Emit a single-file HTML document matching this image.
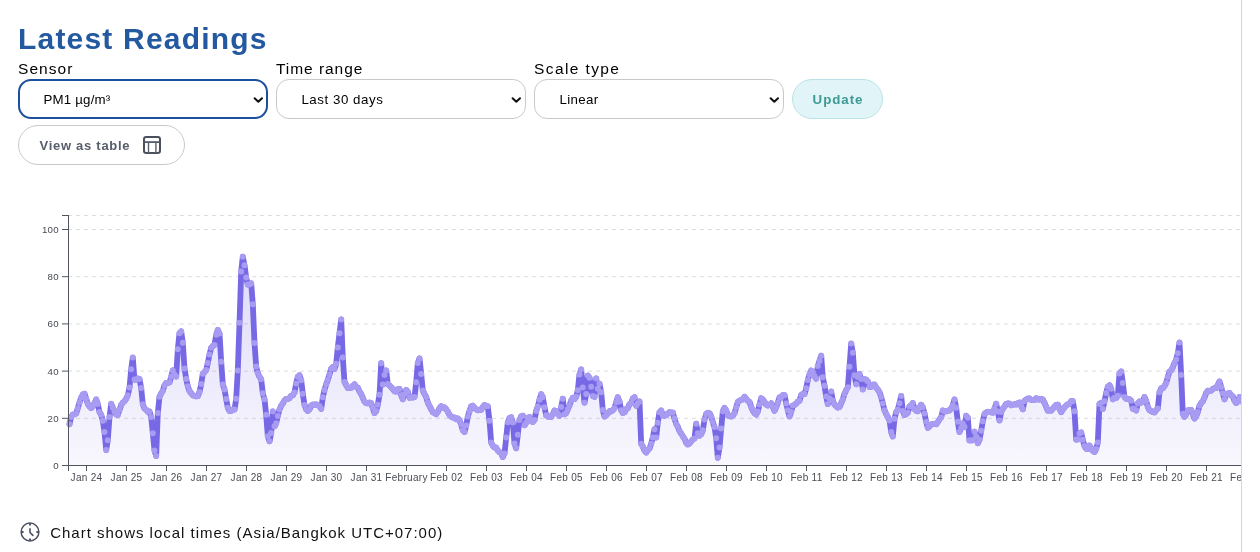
<!DOCTYPE html>
<html><head><meta charset="utf-8"><title>Latest Readings</title>
<style>
html,body{margin:0;padding:0;background:#fff;}
body{width:1260px;height:552px;overflow:hidden;position:relative;font-family:"Liberation Sans",sans-serif;color:#000;}
.wrap{will-change:transform;transform:translateZ(0);position:absolute;left:0;top:0;width:1241px;height:552px;overflow:hidden;border-right:1px solid #d6d6da;}
h1{position:absolute;left:18px;top:16.6px;margin:0;font-size:30px;line-height:44px;font-weight:bold;color:#2359a0;white-space:nowrap;letter-spacing:1.2px;}
.lbl{position:absolute;top:58.6px;font-size:15.5px;line-height:20px;white-space:nowrap;}
.sel{position:absolute;top:79px;width:250px;height:40px;box-sizing:border-box;border:1px solid #c9c9c9;border-radius:13px;background:#fff;font-size:13.3px;line-height:40px;padding-left:24.4px;white-space:nowrap;}
.sel.focus{border:2px solid #1d4f9f;line-height:38px;padding-left:23.4px;}
.sel svg{position:absolute;right:3px;top:14px;}
.sel.focus svg{right:2px;top:13px;}
.btn{position:absolute;box-sizing:border-box;height:40px;border-radius:20px;font-size:13.3px;font-weight:bold;line-height:39.5px;white-space:nowrap;letter-spacing:0.5px;}
.upd{letter-spacing:0.95px;text-indent:1px;}
.tbl{letter-spacing:0.72px;}
.upd{left:792px;top:79px;width:91px;background:#e1f4f7;border:1px solid #b9e3e6;color:#3d9a94;text-align:center;}
.tbl{left:18px;top:125px;width:167px;background:#fff;border:1px solid #c9c9c9;color:#565e6b;padding-left:20.5px;font-size:13px;}
.tbl svg{position:absolute;left:123px;top:9px;}
.chart{position:absolute;left:0;top:200px;}
.foot{position:absolute;left:50.2px;top:522.5px;font-size:15px;line-height:20px;white-space:nowrap;color:#111;letter-spacing:0.99px;}
.clock{position:absolute;left:19px;top:521px;}
</style></head><body><div class="wrap">
<h1>Latest Readings</h1>
<div class="lbl" style="left:18px;letter-spacing:1.05px">Sensor</div>
<div class="lbl" style="left:276px;letter-spacing:0.95px">Time range</div>
<div class="lbl" style="left:534px;letter-spacing:1.4px">Scale type</div>
<div class="sel focus" style="left:18px;letter-spacing:0.2px">PM1 µg/m³<svg width="12" height="12" viewBox="0 0 12 12"><path d="M2.6 4.2l3.7 3.6 3.7-3.6" fill="none" stroke="#111" stroke-width="2" stroke-linecap="round" stroke-linejoin="round"/></svg></div>
<div class="sel" style="left:276px;letter-spacing:0.55px">Last 30 days<svg width="12" height="12" viewBox="0 0 12 12"><path d="M2.6 4.2l3.7 3.6 3.7-3.6" fill="none" stroke="#111" stroke-width="2" stroke-linecap="round" stroke-linejoin="round"/></svg></div>
<div class="sel" style="left:534px;letter-spacing:0.35px">Linear<svg width="12" height="12" viewBox="0 0 12 12"><path d="M2.6 4.2l3.7 3.6 3.7-3.6" fill="none" stroke="#111" stroke-width="2" stroke-linecap="round" stroke-linejoin="round"/></svg></div>
<div class="btn upd">Update</div>
<div class="btn tbl">View as table<svg width="20" height="20" viewBox="0 0 20 20"><rect x="2" y="2" width="16" height="16" rx="2.2" fill="none" stroke="#4a505e" stroke-width="2"/><line x1="2" x2="18" y1="7.1" y2="7.1" stroke="#4a505e" stroke-width="1.7"/><line x1="6.5" x2="6.5" y1="7.1" y2="18" stroke="#5a5f6b" stroke-width="1.4"/><line x1="13.9" x2="13.9" y1="7.1" y2="18" stroke="#5a5f6b" stroke-width="1.4"/></svg></div>
<svg class="chart" width="1241" height="300" viewBox="0 200 1241 300">
<g stroke="#dcdcde" stroke-width="1" stroke-dasharray="4 4" stroke-dashoffset="1"><line x1="69" x2="1242" y1="215.5" y2="215.5"/><line x1="69" x2="1242" y1="229.5" y2="229.5"/><line x1="69" x2="1242" y1="276.7" y2="276.7"/><line x1="69" x2="1242" y1="323.9" y2="323.9"/><line x1="69" x2="1242" y1="371.1" y2="371.1"/><line x1="69" x2="1242" y1="418.3" y2="418.3"/></g>
<defs><linearGradient id="ag" gradientUnits="userSpaceOnUse" x1="0" y1="256" x2="0" y2="465.5"><stop offset="0" stop-color="#7a6ce6" stop-opacity="0.26"/><stop offset="1" stop-color="#7a6ce6" stop-opacity="0.05"/></linearGradient></defs>
<path d="M69.5 424.2 L71.2 416.9 L72.8 414.6 L74.5 414.3 L76.2 413.5 L77.8 408.2 L79.5 402.5 L81.2 397.6 L82.8 394.5 L84.5 393.7 L86.2 398.7 L87.8 403.8 L89.5 406.6 L91.2 408.0 L92.8 406.3 L94.5 403.2 L96.2 399.5 L97.8 404.1 L99.5 412.0 L101.2 414.7 L102.8 420.8 L104.5 431.9 L106.2 450.0 L107.8 440.3 L109.5 417.1 L111.2 403.8 L112.8 407.7 L114.5 411.8 L116.2 414.4 L117.8 414.9 L119.5 409.8 L121.2 405.1 L122.8 402.7 L124.5 401.2 L126.2 398.7 L127.8 395.3 L129.5 387.6 L131.2 369.2 L132.8 357.6 L134.5 379.6 L136.2 379.5 L137.8 378.6 L139.5 379.0 L141.2 388.0 L142.8 404.2 L144.5 408.5 L146.2 409.8 L147.8 411.8 L149.5 411.5 L151.2 417.1 L152.8 433.3 L154.5 450.4 L156.2 456.0 L157.8 413.1 L159.5 396.7 L161.2 393.5 L162.8 390.8 L164.5 385.2 L166.2 383.0 L167.8 382.8 L169.5 382.5 L171.2 376.8 L172.8 370.4 L174.5 374.6 L176.2 376.4 L177.8 349.3 L179.5 333.3 L181.2 331.4 L182.8 342.7 L184.5 368.4 L186.2 378.9 L187.8 386.3 L189.5 391.0 L191.2 393.3 L192.8 395.2 L194.5 396.0 L196.2 396.3 L197.8 396.1 L199.5 391.9 L201.2 384.1 L202.8 373.7 L204.5 372.1 L206.2 370.1 L207.8 363.0 L209.5 354.5 L211.2 347.7 L212.8 346.0 L214.5 345.0 L216.2 334.8 L217.8 330.0 L219.5 333.5 L221.2 361.7 L222.8 384.6 L224.5 389.5 L226.2 399.1 L227.8 407.8 L229.5 411.0 L231.2 410.8 L232.8 409.4 L234.5 409.5 L236.2 398.7 L237.8 370.5 L239.5 322.8 L241.2 271.5 L242.8 256.7 L244.5 265.2 L246.2 277.6 L247.8 284.5 L249.5 284.4 L251.2 283.4 L252.8 304.2 L254.5 342.9 L256.2 366.6 L257.8 373.1 L259.5 376.7 L261.2 379.3 L262.8 393.2 L264.5 399.2 L266.2 414.8 L267.8 436.3 L269.5 441.3 L271.2 433.0 L272.8 411.4 L274.5 426.3 L276.2 423.2 L277.8 415.9 L279.5 409.6 L281.2 405.8 L282.8 403.4 L284.5 400.5 L286.2 399.0 L287.8 399.1 L289.5 398.1 L291.2 395.8 L292.8 395.3 L294.5 392.4 L296.2 383.4 L297.8 376.7 L299.5 375.3 L301.2 380.2 L302.8 393.8 L304.5 404.9 L306.2 409.2 L307.8 410.9 L309.5 409.3 L311.2 405.5 L312.8 404.6 L314.5 404.8 L316.2 404.4 L317.8 405.2 L319.5 406.1 L321.2 408.8 L322.8 397.3 L324.5 389.9 L326.2 384.4 L327.8 379.8 L329.5 374.4 L331.2 368.7 L332.8 367.1 L334.5 369.0 L336.2 363.8 L337.8 347.4 L339.5 333.3 L341.2 319.4 L342.8 357.5 L344.5 381.9 L346.2 385.0 L347.8 388.0 L349.5 387.9 L351.2 387.7 L352.8 385.8 L354.5 384.3 L356.2 386.9 L357.8 387.7 L359.5 391.6 L361.2 394.0 L362.8 397.9 L364.5 401.6 L366.2 403.2 L367.8 403.3 L369.5 402.6 L371.2 403.3 L372.8 408.0 L374.5 413.1 L376.2 411.0 L377.8 404.7 L379.5 394.8 L381.2 363.2 L382.8 384.5 L384.5 375.1 L386.2 370.5 L387.8 384.1 L389.5 385.6 L391.2 387.3 L392.8 389.1 L394.5 391.3 L396.2 391.5 L397.8 389.2 L399.5 389.0 L401.2 395.3 L402.8 399.2 L404.5 394.1 L406.2 389.9 L407.8 391.8 L409.5 397.7 L411.2 397.1 L412.8 397.5 L414.5 396.9 L416.2 382.3 L417.8 362.9 L419.5 358.4 L421.2 373.9 L422.8 390.5 L424.5 394.1 L426.2 397.0 L427.8 402.6 L429.5 406.0 L431.2 409.3 L432.8 412.1 L434.5 413.0 L436.2 414.2 L437.8 411.7 L439.5 408.2 L441.2 406.3 L442.8 407.9 L444.5 407.4 L446.2 409.2 L447.8 411.7 L449.5 414.9 L451.2 416.6 L452.8 417.4 L454.5 417.6 L456.2 419.2 L457.8 418.5 L459.5 420.3 L461.2 424.4 L462.8 430.2 L464.5 432.0 L466.2 425.6 L467.8 416.5 L469.5 411.2 L471.2 406.2 L472.8 405.7 L474.5 407.8 L476.2 409.3 L477.8 410.3 L479.5 409.7 L481.2 409.8 L482.8 407.1 L484.5 404.9 L486.2 406.0 L487.8 406.3 L489.5 420.8 L491.2 442.5 L492.8 445.8 L494.5 447.5 L496.2 447.6 L497.8 450.5 L499.5 452.2 L501.2 453.4 L502.8 457.1 L504.5 453.4 L506.2 437.6 L507.8 422.3 L509.5 418.1 L511.2 417.3 L512.8 422.6 L514.5 443.4 L516.2 448.2 L517.8 434.7 L519.5 419.9 L521.2 416.2 L522.8 415.8 L524.5 425.3 L526.2 422.7 L527.8 417.9 L529.5 417.1 L531.2 421.0 L532.8 421.9 L534.5 419.9 L536.2 410.9 L537.8 406.4 L539.5 399.7 L541.2 394.2 L542.8 397.3 L544.5 407.3 L546.2 415.3 L547.8 416.6 L549.5 416.5 L551.2 416.8 L552.8 414.5 L554.5 410.6 L556.2 411.3 L557.8 413.6 L559.5 415.8 L561.2 407.1 L562.8 398.8 L564.5 414.3 L566.2 413.0 L567.8 409.2 L569.5 405.3 L571.2 400.6 L572.8 397.7 L574.5 398.9 L576.2 396.7 L577.8 390.2 L579.5 374.4 L581.2 369.5 L582.8 387.6 L584.5 402.7 L586.2 394.1 L587.8 375.6 L589.5 377.7 L591.2 386.7 L592.8 396.1 L594.5 396.8 L596.2 378.4 L597.8 388.7 L599.5 383.8 L601.2 392.3 L602.8 410.0 L604.5 416.5 L606.2 415.2 L607.8 413.4 L609.5 411.2 L611.2 411.3 L612.8 410.2 L614.5 408.2 L616.2 402.3 L617.8 397.2 L619.5 401.5 L621.2 410.3 L622.8 412.9 L624.5 412.3 L626.2 409.1 L627.8 408.2 L629.5 404.3 L631.2 402.9 L632.8 398.6 L634.5 397.2 L636.2 405.8 L637.8 403.2 L639.5 401.5 L641.2 443.7 L642.8 446.7 L644.5 450.6 L646.2 452.5 L647.8 450.2 L649.5 448.5 L651.2 443.7 L652.8 437.6 L654.5 429.2 L656.2 437.5 L657.8 422.7 L659.5 412.3 L661.2 410.5 L662.8 415.3 L664.5 415.8 L666.2 415.3 L667.8 413.6 L669.5 412.2 L671.2 412.6 L672.8 412.6 L674.5 418.6 L676.2 423.9 L677.8 426.7 L679.5 431.0 L681.2 433.6 L682.8 436.3 L684.5 438.8 L686.2 442.7 L687.8 444.4 L689.5 443.6 L691.2 441.3 L692.8 439.6 L694.5 438.4 L696.2 423.7 L697.8 433.2 L699.5 435.7 L701.2 434.2 L702.8 430.3 L704.5 419.6 L706.2 414.1 L707.8 412.8 L709.5 413.2 L711.2 416.5 L712.8 422.0 L714.5 427.1 L716.2 438.2 L717.8 457.7 L719.5 447.5 L721.2 428.6 L722.8 411.3 L724.5 407.9 L726.2 410.5 L727.8 414.9 L729.5 416.1 L731.2 416.5 L732.8 415.5 L734.5 413.1 L736.2 407.5 L737.8 402.1 L739.5 400.7 L741.2 399.8 L742.8 399.4 L744.5 396.8 L746.2 399.0 L747.8 400.7 L749.5 402.1 L751.2 406.8 L752.8 410.6 L754.5 413.2 L756.2 414.6 L757.8 411.5 L759.5 404.6 L761.2 398.2 L762.8 399.4 L764.5 401.9 L766.2 404.6 L767.8 405.5 L769.5 404.9 L771.2 403.3 L772.8 406.9 L774.5 410.8 L776.2 407.3 L777.8 402.6 L779.5 397.5 L781.2 397.3 L782.8 395.2 L784.5 395.2 L786.2 403.4 L787.8 410.2 L789.5 416.4 L791.2 411.9 L792.8 405.6 L794.5 404.9 L796.2 403.6 L797.8 401.6 L799.5 400.8 L801.2 394.9 L802.8 393.9 L804.5 394.1 L806.2 388.2 L807.8 380.0 L809.5 374.5 L811.2 370.6 L812.8 372.1 L814.5 375.9 L816.2 378.6 L817.8 366.1 L819.5 361.0 L821.2 355.8 L822.8 377.3 L824.5 385.7 L826.2 396.5 L827.8 404.1 L829.5 398.4 L831.2 391.6 L832.8 400.6 L834.5 404.4 L836.2 406.1 L837.8 407.5 L839.5 406.9 L841.2 403.2 L842.8 399.3 L844.5 393.7 L846.2 390.2 L847.8 387.3 L849.5 366.7 L851.2 343.6 L852.8 352.7 L854.5 375.2 L856.2 384.3 L857.8 377.1 L859.5 374.1 L861.2 378.9 L862.8 389.4 L864.5 379.1 L866.2 379.8 L867.8 381.6 L869.5 387.1 L871.2 386.7 L872.8 384.7 L874.5 384.6 L876.2 387.7 L877.8 389.4 L879.5 392.2 L881.2 397.1 L882.8 403.4 L884.5 410.2 L886.2 414.1 L887.8 416.9 L889.5 420.6 L891.2 432.1 L892.8 436.4 L894.5 418.8 L896.2 412.1 L897.8 409.6 L899.5 403.3 L901.2 396.0 L902.8 411.1 L904.5 415.0 L906.2 414.0 L907.8 412.7 L909.5 406.4 L911.2 405.3 L912.8 403.1 L914.5 408.9 L916.2 410.7 L917.8 411.2 L919.5 407.7 L921.2 404.7 L922.8 407.2 L924.5 413.6 L926.2 421.7 L927.8 427.7 L929.5 426.6 L931.2 424.4 L932.8 423.8 L934.5 423.8 L936.2 424.3 L937.8 422.1 L939.5 419.2 L941.2 417.3 L942.8 410.5 L944.5 411.3 L946.2 411.3 L947.8 410.7 L949.5 410.4 L951.2 408.4 L952.8 405.2 L954.5 399.5 L956.2 407.8 L957.8 421.7 L959.5 432.0 L961.2 427.7 L962.8 423.5 L964.5 426.7 L966.2 415.8 L967.8 417.8 L969.5 440.4 L971.2 440.3 L972.8 440.3 L974.5 431.7 L976.2 436.4 L977.8 443.2 L979.5 439.7 L981.2 430.7 L982.8 421.2 L984.5 414.1 L986.2 412.4 L987.8 411.8 L989.5 412.1 L991.2 412.3 L992.8 412.7 L994.5 408.7 L996.2 403.8 L997.8 411.4 L999.5 420.4 L1001.2 411.9 L1002.8 408.8 L1004.5 406.5 L1006.2 404.0 L1007.8 403.5 L1009.5 403.7 L1011.2 405.3 L1012.8 404.7 L1014.5 404.2 L1016.2 404.5 L1017.8 403.3 L1019.5 402.6 L1021.2 405.9 L1022.8 409.3 L1024.5 400.9 L1026.2 399.6 L1027.8 398.6 L1029.5 398.5 L1031.2 399.8 L1032.8 399.9 L1034.5 399.9 L1036.2 398.2 L1037.8 399.3 L1039.5 399.5 L1041.2 398.8 L1042.8 399.6 L1044.5 402.9 L1046.2 406.8 L1047.8 410.7 L1049.5 410.4 L1051.2 410.6 L1052.8 408.7 L1054.5 406.7 L1056.2 404.9 L1057.8 404.7 L1059.5 408.9 L1061.2 412.1 L1062.8 409.6 L1064.5 407.2 L1066.2 405.5 L1067.8 404.4 L1069.5 403.6 L1071.2 401.2 L1072.8 401.2 L1074.5 411.3 L1076.2 439.5 L1077.8 439.4 L1079.5 433.6 L1081.2 432.5 L1082.8 439.8 L1084.5 445.9 L1086.2 448.7 L1087.8 449.1 L1089.5 445.5 L1091.2 448.2 L1092.8 450.8 L1094.5 452.0 L1096.2 448.9 L1097.8 442.6 L1099.5 403.9 L1101.2 402.8 L1102.8 408.9 L1104.5 401.3 L1106.2 392.9 L1107.8 386.7 L1109.5 385.3 L1111.2 388.8 L1112.8 399.3 L1114.5 397.8 L1116.2 397.9 L1117.8 395.8 L1119.5 373.4 L1121.2 371.5 L1122.8 383.0 L1124.5 396.9 L1126.2 398.7 L1127.8 398.8 L1129.5 399.3 L1131.2 400.7 L1132.8 408.8 L1134.5 409.1 L1136.2 410.4 L1137.8 403.4 L1139.5 401.4 L1141.2 402.5 L1142.8 401.4 L1144.5 397.1 L1146.2 400.9 L1147.8 406.7 L1149.5 410.2 L1151.2 411.1 L1152.8 411.9 L1154.5 412.4 L1156.2 410.1 L1157.8 408.4 L1159.5 392.3 L1161.2 388.3 L1162.8 388.2 L1164.5 386.0 L1166.2 382.9 L1167.8 377.0 L1169.5 371.7 L1171.2 370.3 L1172.8 367.2 L1174.5 363.0 L1176.2 359.5 L1177.8 353.3 L1179.5 342.6 L1181.2 375.1 L1182.8 413.7 L1184.5 416.8 L1186.2 414.3 L1187.8 410.4 L1189.5 410.0 L1191.2 409.9 L1192.8 414.0 L1194.5 418.6 L1196.2 416.1 L1197.8 412.1 L1199.5 405.8 L1201.2 403.0 L1202.8 401.2 L1204.5 397.5 L1206.2 392.9 L1207.8 390.7 L1209.5 391.2 L1211.2 390.6 L1212.8 388.9 L1214.5 388.2 L1216.2 388.1 L1217.8 384.9 L1219.5 381.6 L1221.2 387.1 L1222.8 393.3 L1224.5 399.3 L1226.2 394.3 L1227.8 393.5 L1229.5 392.9 L1231.2 395.2 L1232.8 396.4 L1234.5 400.7 L1236.2 403.0 L1237.8 401.4 L1239.5 396.9 L1241.2 401.3 L1242.8 401.2 L1244.5 401.0 L1244.5 465.5 L69.5 465.5 Z" fill="url(#ag)"/>
<path d="M69.5 424.2 L71.2 416.9 L72.8 414.6 L74.5 414.3 L76.2 413.5 L77.8 408.2 L79.5 402.5 L81.2 397.6 L82.8 394.5 L84.5 393.7 L86.2 398.7 L87.8 403.8 L89.5 406.6 L91.2 408.0 L92.8 406.3 L94.5 403.2 L96.2 399.5 L97.8 404.1 L99.5 412.0 L101.2 414.7 L102.8 420.8 L104.5 431.9 L106.2 450.0 L107.8 440.3 L109.5 417.1 L111.2 403.8 L112.8 407.7 L114.5 411.8 L116.2 414.4 L117.8 414.9 L119.5 409.8 L121.2 405.1 L122.8 402.7 L124.5 401.2 L126.2 398.7 L127.8 395.3 L129.5 387.6 L131.2 369.2 L132.8 357.6 L134.5 379.6 L136.2 379.5 L137.8 378.6 L139.5 379.0 L141.2 388.0 L142.8 404.2 L144.5 408.5 L146.2 409.8 L147.8 411.8 L149.5 411.5 L151.2 417.1 L152.8 433.3 L154.5 450.4 L156.2 456.0 L157.8 413.1 L159.5 396.7 L161.2 393.5 L162.8 390.8 L164.5 385.2 L166.2 383.0 L167.8 382.8 L169.5 382.5 L171.2 376.8 L172.8 370.4 L174.5 374.6 L176.2 376.4 L177.8 349.3 L179.5 333.3 L181.2 331.4 L182.8 342.7 L184.5 368.4 L186.2 378.9 L187.8 386.3 L189.5 391.0 L191.2 393.3 L192.8 395.2 L194.5 396.0 L196.2 396.3 L197.8 396.1 L199.5 391.9 L201.2 384.1 L202.8 373.7 L204.5 372.1 L206.2 370.1 L207.8 363.0 L209.5 354.5 L211.2 347.7 L212.8 346.0 L214.5 345.0 L216.2 334.8 L217.8 330.0 L219.5 333.5 L221.2 361.7 L222.8 384.6 L224.5 389.5 L226.2 399.1 L227.8 407.8 L229.5 411.0 L231.2 410.8 L232.8 409.4 L234.5 409.5 L236.2 398.7 L237.8 370.5 L239.5 322.8 L241.2 271.5 L242.8 256.7 L244.5 265.2 L246.2 277.6 L247.8 284.5 L249.5 284.4 L251.2 283.4 L252.8 304.2 L254.5 342.9 L256.2 366.6 L257.8 373.1 L259.5 376.7 L261.2 379.3 L262.8 393.2 L264.5 399.2 L266.2 414.8 L267.8 436.3 L269.5 441.3 L271.2 433.0 L272.8 411.4 L274.5 426.3 L276.2 423.2 L277.8 415.9 L279.5 409.6 L281.2 405.8 L282.8 403.4 L284.5 400.5 L286.2 399.0 L287.8 399.1 L289.5 398.1 L291.2 395.8 L292.8 395.3 L294.5 392.4 L296.2 383.4 L297.8 376.7 L299.5 375.3 L301.2 380.2 L302.8 393.8 L304.5 404.9 L306.2 409.2 L307.8 410.9 L309.5 409.3 L311.2 405.5 L312.8 404.6 L314.5 404.8 L316.2 404.4 L317.8 405.2 L319.5 406.1 L321.2 408.8 L322.8 397.3 L324.5 389.9 L326.2 384.4 L327.8 379.8 L329.5 374.4 L331.2 368.7 L332.8 367.1 L334.5 369.0 L336.2 363.8 L337.8 347.4 L339.5 333.3 L341.2 319.4 L342.8 357.5 L344.5 381.9 L346.2 385.0 L347.8 388.0 L349.5 387.9 L351.2 387.7 L352.8 385.8 L354.5 384.3 L356.2 386.9 L357.8 387.7 L359.5 391.6 L361.2 394.0 L362.8 397.9 L364.5 401.6 L366.2 403.2 L367.8 403.3 L369.5 402.6 L371.2 403.3 L372.8 408.0 L374.5 413.1 L376.2 411.0 L377.8 404.7 L379.5 394.8 L381.2 363.2 L382.8 384.5 L384.5 375.1 L386.2 370.5 L387.8 384.1 L389.5 385.6 L391.2 387.3 L392.8 389.1 L394.5 391.3 L396.2 391.5 L397.8 389.2 L399.5 389.0 L401.2 395.3 L402.8 399.2 L404.5 394.1 L406.2 389.9 L407.8 391.8 L409.5 397.7 L411.2 397.1 L412.8 397.5 L414.5 396.9 L416.2 382.3 L417.8 362.9 L419.5 358.4 L421.2 373.9 L422.8 390.5 L424.5 394.1 L426.2 397.0 L427.8 402.6 L429.5 406.0 L431.2 409.3 L432.8 412.1 L434.5 413.0 L436.2 414.2 L437.8 411.7 L439.5 408.2 L441.2 406.3 L442.8 407.9 L444.5 407.4 L446.2 409.2 L447.8 411.7 L449.5 414.9 L451.2 416.6 L452.8 417.4 L454.5 417.6 L456.2 419.2 L457.8 418.5 L459.5 420.3 L461.2 424.4 L462.8 430.2 L464.5 432.0 L466.2 425.6 L467.8 416.5 L469.5 411.2 L471.2 406.2 L472.8 405.7 L474.5 407.8 L476.2 409.3 L477.8 410.3 L479.5 409.7 L481.2 409.8 L482.8 407.1 L484.5 404.9 L486.2 406.0 L487.8 406.3 L489.5 420.8 L491.2 442.5 L492.8 445.8 L494.5 447.5 L496.2 447.6 L497.8 450.5 L499.5 452.2 L501.2 453.4 L502.8 457.1 L504.5 453.4 L506.2 437.6 L507.8 422.3 L509.5 418.1 L511.2 417.3 L512.8 422.6 L514.5 443.4 L516.2 448.2 L517.8 434.7 L519.5 419.9 L521.2 416.2 L522.8 415.8 L524.5 425.3 L526.2 422.7 L527.8 417.9 L529.5 417.1 L531.2 421.0 L532.8 421.9 L534.5 419.9 L536.2 410.9 L537.8 406.4 L539.5 399.7 L541.2 394.2 L542.8 397.3 L544.5 407.3 L546.2 415.3 L547.8 416.6 L549.5 416.5 L551.2 416.8 L552.8 414.5 L554.5 410.6 L556.2 411.3 L557.8 413.6 L559.5 415.8 L561.2 407.1 L562.8 398.8 L564.5 414.3 L566.2 413.0 L567.8 409.2 L569.5 405.3 L571.2 400.6 L572.8 397.7 L574.5 398.9 L576.2 396.7 L577.8 390.2 L579.5 374.4 L581.2 369.5 L582.8 387.6 L584.5 402.7 L586.2 394.1 L587.8 375.6 L589.5 377.7 L591.2 386.7 L592.8 396.1 L594.5 396.8 L596.2 378.4 L597.8 388.7 L599.5 383.8 L601.2 392.3 L602.8 410.0 L604.5 416.5 L606.2 415.2 L607.8 413.4 L609.5 411.2 L611.2 411.3 L612.8 410.2 L614.5 408.2 L616.2 402.3 L617.8 397.2 L619.5 401.5 L621.2 410.3 L622.8 412.9 L624.5 412.3 L626.2 409.1 L627.8 408.2 L629.5 404.3 L631.2 402.9 L632.8 398.6 L634.5 397.2 L636.2 405.8 L637.8 403.2 L639.5 401.5 L641.2 443.7 L642.8 446.7 L644.5 450.6 L646.2 452.5 L647.8 450.2 L649.5 448.5 L651.2 443.7 L652.8 437.6 L654.5 429.2 L656.2 437.5 L657.8 422.7 L659.5 412.3 L661.2 410.5 L662.8 415.3 L664.5 415.8 L666.2 415.3 L667.8 413.6 L669.5 412.2 L671.2 412.6 L672.8 412.6 L674.5 418.6 L676.2 423.9 L677.8 426.7 L679.5 431.0 L681.2 433.6 L682.8 436.3 L684.5 438.8 L686.2 442.7 L687.8 444.4 L689.5 443.6 L691.2 441.3 L692.8 439.6 L694.5 438.4 L696.2 423.7 L697.8 433.2 L699.5 435.7 L701.2 434.2 L702.8 430.3 L704.5 419.6 L706.2 414.1 L707.8 412.8 L709.5 413.2 L711.2 416.5 L712.8 422.0 L714.5 427.1 L716.2 438.2 L717.8 457.7 L719.5 447.5 L721.2 428.6 L722.8 411.3 L724.5 407.9 L726.2 410.5 L727.8 414.9 L729.5 416.1 L731.2 416.5 L732.8 415.5 L734.5 413.1 L736.2 407.5 L737.8 402.1 L739.5 400.7 L741.2 399.8 L742.8 399.4 L744.5 396.8 L746.2 399.0 L747.8 400.7 L749.5 402.1 L751.2 406.8 L752.8 410.6 L754.5 413.2 L756.2 414.6 L757.8 411.5 L759.5 404.6 L761.2 398.2 L762.8 399.4 L764.5 401.9 L766.2 404.6 L767.8 405.5 L769.5 404.9 L771.2 403.3 L772.8 406.9 L774.5 410.8 L776.2 407.3 L777.8 402.6 L779.5 397.5 L781.2 397.3 L782.8 395.2 L784.5 395.2 L786.2 403.4 L787.8 410.2 L789.5 416.4 L791.2 411.9 L792.8 405.6 L794.5 404.9 L796.2 403.6 L797.8 401.6 L799.5 400.8 L801.2 394.9 L802.8 393.9 L804.5 394.1 L806.2 388.2 L807.8 380.0 L809.5 374.5 L811.2 370.6 L812.8 372.1 L814.5 375.9 L816.2 378.6 L817.8 366.1 L819.5 361.0 L821.2 355.8 L822.8 377.3 L824.5 385.7 L826.2 396.5 L827.8 404.1 L829.5 398.4 L831.2 391.6 L832.8 400.6 L834.5 404.4 L836.2 406.1 L837.8 407.5 L839.5 406.9 L841.2 403.2 L842.8 399.3 L844.5 393.7 L846.2 390.2 L847.8 387.3 L849.5 366.7 L851.2 343.6 L852.8 352.7 L854.5 375.2 L856.2 384.3 L857.8 377.1 L859.5 374.1 L861.2 378.9 L862.8 389.4 L864.5 379.1 L866.2 379.8 L867.8 381.6 L869.5 387.1 L871.2 386.7 L872.8 384.7 L874.5 384.6 L876.2 387.7 L877.8 389.4 L879.5 392.2 L881.2 397.1 L882.8 403.4 L884.5 410.2 L886.2 414.1 L887.8 416.9 L889.5 420.6 L891.2 432.1 L892.8 436.4 L894.5 418.8 L896.2 412.1 L897.8 409.6 L899.5 403.3 L901.2 396.0 L902.8 411.1 L904.5 415.0 L906.2 414.0 L907.8 412.7 L909.5 406.4 L911.2 405.3 L912.8 403.1 L914.5 408.9 L916.2 410.7 L917.8 411.2 L919.5 407.7 L921.2 404.7 L922.8 407.2 L924.5 413.6 L926.2 421.7 L927.8 427.7 L929.5 426.6 L931.2 424.4 L932.8 423.8 L934.5 423.8 L936.2 424.3 L937.8 422.1 L939.5 419.2 L941.2 417.3 L942.8 410.5 L944.5 411.3 L946.2 411.3 L947.8 410.7 L949.5 410.4 L951.2 408.4 L952.8 405.2 L954.5 399.5 L956.2 407.8 L957.8 421.7 L959.5 432.0 L961.2 427.7 L962.8 423.5 L964.5 426.7 L966.2 415.8 L967.8 417.8 L969.5 440.4 L971.2 440.3 L972.8 440.3 L974.5 431.7 L976.2 436.4 L977.8 443.2 L979.5 439.7 L981.2 430.7 L982.8 421.2 L984.5 414.1 L986.2 412.4 L987.8 411.8 L989.5 412.1 L991.2 412.3 L992.8 412.7 L994.5 408.7 L996.2 403.8 L997.8 411.4 L999.5 420.4 L1001.2 411.9 L1002.8 408.8 L1004.5 406.5 L1006.2 404.0 L1007.8 403.5 L1009.5 403.7 L1011.2 405.3 L1012.8 404.7 L1014.5 404.2 L1016.2 404.5 L1017.8 403.3 L1019.5 402.6 L1021.2 405.9 L1022.8 409.3 L1024.5 400.9 L1026.2 399.6 L1027.8 398.6 L1029.5 398.5 L1031.2 399.8 L1032.8 399.9 L1034.5 399.9 L1036.2 398.2 L1037.8 399.3 L1039.5 399.5 L1041.2 398.8 L1042.8 399.6 L1044.5 402.9 L1046.2 406.8 L1047.8 410.7 L1049.5 410.4 L1051.2 410.6 L1052.8 408.7 L1054.5 406.7 L1056.2 404.9 L1057.8 404.7 L1059.5 408.9 L1061.2 412.1 L1062.8 409.6 L1064.5 407.2 L1066.2 405.5 L1067.8 404.4 L1069.5 403.6 L1071.2 401.2 L1072.8 401.2 L1074.5 411.3 L1076.2 439.5 L1077.8 439.4 L1079.5 433.6 L1081.2 432.5 L1082.8 439.8 L1084.5 445.9 L1086.2 448.7 L1087.8 449.1 L1089.5 445.5 L1091.2 448.2 L1092.8 450.8 L1094.5 452.0 L1096.2 448.9 L1097.8 442.6 L1099.5 403.9 L1101.2 402.8 L1102.8 408.9 L1104.5 401.3 L1106.2 392.9 L1107.8 386.7 L1109.5 385.3 L1111.2 388.8 L1112.8 399.3 L1114.5 397.8 L1116.2 397.9 L1117.8 395.8 L1119.5 373.4 L1121.2 371.5 L1122.8 383.0 L1124.5 396.9 L1126.2 398.7 L1127.8 398.8 L1129.5 399.3 L1131.2 400.7 L1132.8 408.8 L1134.5 409.1 L1136.2 410.4 L1137.8 403.4 L1139.5 401.4 L1141.2 402.5 L1142.8 401.4 L1144.5 397.1 L1146.2 400.9 L1147.8 406.7 L1149.5 410.2 L1151.2 411.1 L1152.8 411.9 L1154.5 412.4 L1156.2 410.1 L1157.8 408.4 L1159.5 392.3 L1161.2 388.3 L1162.8 388.2 L1164.5 386.0 L1166.2 382.9 L1167.8 377.0 L1169.5 371.7 L1171.2 370.3 L1172.8 367.2 L1174.5 363.0 L1176.2 359.5 L1177.8 353.3 L1179.5 342.6 L1181.2 375.1 L1182.8 413.7 L1184.5 416.8 L1186.2 414.3 L1187.8 410.4 L1189.5 410.0 L1191.2 409.9 L1192.8 414.0 L1194.5 418.6 L1196.2 416.1 L1197.8 412.1 L1199.5 405.8 L1201.2 403.0 L1202.8 401.2 L1204.5 397.5 L1206.2 392.9 L1207.8 390.7 L1209.5 391.2 L1211.2 390.6 L1212.8 388.9 L1214.5 388.2 L1216.2 388.1 L1217.8 384.9 L1219.5 381.6 L1221.2 387.1 L1222.8 393.3 L1224.5 399.3 L1226.2 394.3 L1227.8 393.5 L1229.5 392.9 L1231.2 395.2 L1232.8 396.4 L1234.5 400.7 L1236.2 403.0 L1237.8 401.4 L1239.5 396.9 L1241.2 401.3 L1242.8 401.2 L1244.5 401.0" fill="none" stroke="#7769e5" stroke-width="5.8" stroke-linejoin="round" stroke-linecap="round"/>
<path d="M69.5 424.2h0M71.2 416.9h0M72.8 414.6h0M74.5 414.3h0M76.2 413.5h0M77.8 408.2h0M79.5 402.5h0M81.2 397.6h0M82.8 394.5h0M84.5 393.7h0M86.2 398.7h0M87.8 403.8h0M89.5 406.6h0M91.2 408.0h0M92.8 406.3h0M94.5 403.2h0M96.2 399.5h0M97.8 404.1h0M99.5 412.0h0M101.2 414.7h0M102.8 420.8h0M104.5 431.9h0M106.2 450.0h0M107.8 440.3h0M109.5 417.1h0M111.2 403.8h0M112.8 407.7h0M114.5 411.8h0M116.2 414.4h0M117.8 414.9h0M119.5 409.8h0M121.2 405.1h0M122.8 402.7h0M124.5 401.2h0M126.2 398.7h0M127.8 395.3h0M129.5 387.6h0M131.2 369.2h0M132.8 357.6h0M134.5 379.6h0M136.2 379.5h0M137.8 378.6h0M139.5 379.0h0M141.2 388.0h0M142.8 404.2h0M144.5 408.5h0M146.2 409.8h0M147.8 411.8h0M149.5 411.5h0M151.2 417.1h0M152.8 433.3h0M154.5 450.4h0M156.2 456.0h0M157.8 413.1h0M159.5 396.7h0M161.2 393.5h0M162.8 390.8h0M164.5 385.2h0M166.2 383.0h0M167.8 382.8h0M169.5 382.5h0M171.2 376.8h0M172.8 370.4h0M174.5 374.6h0M176.2 376.4h0M177.8 349.3h0M179.5 333.3h0M181.2 331.4h0M182.8 342.7h0M184.5 368.4h0M186.2 378.9h0M187.8 386.3h0M189.5 391.0h0M191.2 393.3h0M192.8 395.2h0M194.5 396.0h0M196.2 396.3h0M197.8 396.1h0M199.5 391.9h0M201.2 384.1h0M202.8 373.7h0M204.5 372.1h0M206.2 370.1h0M207.8 363.0h0M209.5 354.5h0M211.2 347.7h0M212.8 346.0h0M214.5 345.0h0M216.2 334.8h0M217.8 330.0h0M219.5 333.5h0M221.2 361.7h0M222.8 384.6h0M224.5 389.5h0M226.2 399.1h0M227.8 407.8h0M229.5 411.0h0M231.2 410.8h0M232.8 409.4h0M234.5 409.5h0M236.2 398.7h0M237.8 370.5h0M239.5 322.8h0M241.2 271.5h0M242.8 256.7h0M244.5 265.2h0M246.2 277.6h0M247.8 284.5h0M249.5 284.4h0M251.2 283.4h0M252.8 304.2h0M254.5 342.9h0M256.2 366.6h0M257.8 373.1h0M259.5 376.7h0M261.2 379.3h0M262.8 393.2h0M264.5 399.2h0M266.2 414.8h0M267.8 436.3h0M269.5 441.3h0M271.2 433.0h0M272.8 411.4h0M274.5 426.3h0M276.2 423.2h0M277.8 415.9h0M279.5 409.6h0M281.2 405.8h0M282.8 403.4h0M284.5 400.5h0M286.2 399.0h0M287.8 399.1h0M289.5 398.1h0M291.2 395.8h0M292.8 395.3h0M294.5 392.4h0M296.2 383.4h0M297.8 376.7h0M299.5 375.3h0M301.2 380.2h0M302.8 393.8h0M304.5 404.9h0M306.2 409.2h0M307.8 410.9h0M309.5 409.3h0M311.2 405.5h0M312.8 404.6h0M314.5 404.8h0M316.2 404.4h0M317.8 405.2h0M319.5 406.1h0M321.2 408.8h0M322.8 397.3h0M324.5 389.9h0M326.2 384.4h0M327.8 379.8h0M329.5 374.4h0M331.2 368.7h0M332.8 367.1h0M334.5 369.0h0M336.2 363.8h0M337.8 347.4h0M339.5 333.3h0M341.2 319.4h0M342.8 357.5h0M344.5 381.9h0M346.2 385.0h0M347.8 388.0h0M349.5 387.9h0M351.2 387.7h0M352.8 385.8h0M354.5 384.3h0M356.2 386.9h0M357.8 387.7h0M359.5 391.6h0M361.2 394.0h0M362.8 397.9h0M364.5 401.6h0M366.2 403.2h0M367.8 403.3h0M369.5 402.6h0M371.2 403.3h0M372.8 408.0h0M374.5 413.1h0M376.2 411.0h0M377.8 404.7h0M379.5 394.8h0M381.2 363.2h0M382.8 384.5h0M384.5 375.1h0M386.2 370.5h0M387.8 384.1h0M389.5 385.6h0M391.2 387.3h0M392.8 389.1h0M394.5 391.3h0M396.2 391.5h0M397.8 389.2h0M399.5 389.0h0M401.2 395.3h0M402.8 399.2h0M404.5 394.1h0M406.2 389.9h0M407.8 391.8h0M409.5 397.7h0M411.2 397.1h0M412.8 397.5h0M414.5 396.9h0M416.2 382.3h0M417.8 362.9h0M419.5 358.4h0M421.2 373.9h0M422.8 390.5h0M424.5 394.1h0M426.2 397.0h0M427.8 402.6h0M429.5 406.0h0M431.2 409.3h0M432.8 412.1h0M434.5 413.0h0M436.2 414.2h0M437.8 411.7h0M439.5 408.2h0M441.2 406.3h0M442.8 407.9h0M444.5 407.4h0M446.2 409.2h0M447.8 411.7h0M449.5 414.9h0M451.2 416.6h0M452.8 417.4h0M454.5 417.6h0M456.2 419.2h0M457.8 418.5h0M459.5 420.3h0M461.2 424.4h0M462.8 430.2h0M464.5 432.0h0M466.2 425.6h0M467.8 416.5h0M469.5 411.2h0M471.2 406.2h0M472.8 405.7h0M474.5 407.8h0M476.2 409.3h0M477.8 410.3h0M479.5 409.7h0M481.2 409.8h0M482.8 407.1h0M484.5 404.9h0M486.2 406.0h0M487.8 406.3h0M489.5 420.8h0M491.2 442.5h0M492.8 445.8h0M494.5 447.5h0M496.2 447.6h0M497.8 450.5h0M499.5 452.2h0M501.2 453.4h0M502.8 457.1h0M504.5 453.4h0M506.2 437.6h0M507.8 422.3h0M509.5 418.1h0M511.2 417.3h0M512.8 422.6h0M514.5 443.4h0M516.2 448.2h0M517.8 434.7h0M519.5 419.9h0M521.2 416.2h0M522.8 415.8h0M524.5 425.3h0M526.2 422.7h0M527.8 417.9h0M529.5 417.1h0M531.2 421.0h0M532.8 421.9h0M534.5 419.9h0M536.2 410.9h0M537.8 406.4h0M539.5 399.7h0M541.2 394.2h0M542.8 397.3h0M544.5 407.3h0M546.2 415.3h0M547.8 416.6h0M549.5 416.5h0M551.2 416.8h0M552.8 414.5h0M554.5 410.6h0M556.2 411.3h0M557.8 413.6h0M559.5 415.8h0M561.2 407.1h0M562.8 398.8h0M564.5 414.3h0M566.2 413.0h0M567.8 409.2h0M569.5 405.3h0M571.2 400.6h0M572.8 397.7h0M574.5 398.9h0M576.2 396.7h0M577.8 390.2h0M579.5 374.4h0M581.2 369.5h0M582.8 387.6h0M584.5 402.7h0M586.2 394.1h0M587.8 375.6h0M589.5 377.7h0M591.2 386.7h0M592.8 396.1h0M594.5 396.8h0M596.2 378.4h0M597.8 388.7h0M599.5 383.8h0M601.2 392.3h0M602.8 410.0h0M604.5 416.5h0M606.2 415.2h0M607.8 413.4h0M609.5 411.2h0M611.2 411.3h0M612.8 410.2h0M614.5 408.2h0M616.2 402.3h0M617.8 397.2h0M619.5 401.5h0M621.2 410.3h0M622.8 412.9h0M624.5 412.3h0M626.2 409.1h0M627.8 408.2h0M629.5 404.3h0M631.2 402.9h0M632.8 398.6h0M634.5 397.2h0M636.2 405.8h0M637.8 403.2h0M639.5 401.5h0M641.2 443.7h0M642.8 446.7h0M644.5 450.6h0M646.2 452.5h0M647.8 450.2h0M649.5 448.5h0M651.2 443.7h0M652.8 437.6h0M654.5 429.2h0M656.2 437.5h0M657.8 422.7h0M659.5 412.3h0M661.2 410.5h0M662.8 415.3h0M664.5 415.8h0M666.2 415.3h0M667.8 413.6h0M669.5 412.2h0M671.2 412.6h0M672.8 412.6h0M674.5 418.6h0M676.2 423.9h0M677.8 426.7h0M679.5 431.0h0M681.2 433.6h0M682.8 436.3h0M684.5 438.8h0M686.2 442.7h0M687.8 444.4h0M689.5 443.6h0M691.2 441.3h0M692.8 439.6h0M694.5 438.4h0M696.2 423.7h0M697.8 433.2h0M699.5 435.7h0M701.2 434.2h0M702.8 430.3h0M704.5 419.6h0M706.2 414.1h0M707.8 412.8h0M709.5 413.2h0M711.2 416.5h0M712.8 422.0h0M714.5 427.1h0M716.2 438.2h0M717.8 457.7h0M719.5 447.5h0M721.2 428.6h0M722.8 411.3h0M724.5 407.9h0M726.2 410.5h0M727.8 414.9h0M729.5 416.1h0M731.2 416.5h0M732.8 415.5h0M734.5 413.1h0M736.2 407.5h0M737.8 402.1h0M739.5 400.7h0M741.2 399.8h0M742.8 399.4h0M744.5 396.8h0M746.2 399.0h0M747.8 400.7h0M749.5 402.1h0M751.2 406.8h0M752.8 410.6h0M754.5 413.2h0M756.2 414.6h0M757.8 411.5h0M759.5 404.6h0M761.2 398.2h0M762.8 399.4h0M764.5 401.9h0M766.2 404.6h0M767.8 405.5h0M769.5 404.9h0M771.2 403.3h0M772.8 406.9h0M774.5 410.8h0M776.2 407.3h0M777.8 402.6h0M779.5 397.5h0M781.2 397.3h0M782.8 395.2h0M784.5 395.2h0M786.2 403.4h0M787.8 410.2h0M789.5 416.4h0M791.2 411.9h0M792.8 405.6h0M794.5 404.9h0M796.2 403.6h0M797.8 401.6h0M799.5 400.8h0M801.2 394.9h0M802.8 393.9h0M804.5 394.1h0M806.2 388.2h0M807.8 380.0h0M809.5 374.5h0M811.2 370.6h0M812.8 372.1h0M814.5 375.9h0M816.2 378.6h0M817.8 366.1h0M819.5 361.0h0M821.2 355.8h0M822.8 377.3h0M824.5 385.7h0M826.2 396.5h0M827.8 404.1h0M829.5 398.4h0M831.2 391.6h0M832.8 400.6h0M834.5 404.4h0M836.2 406.1h0M837.8 407.5h0M839.5 406.9h0M841.2 403.2h0M842.8 399.3h0M844.5 393.7h0M846.2 390.2h0M847.8 387.3h0M849.5 366.7h0M851.2 343.6h0M852.8 352.7h0M854.5 375.2h0M856.2 384.3h0M857.8 377.1h0M859.5 374.1h0M861.2 378.9h0M862.8 389.4h0M864.5 379.1h0M866.2 379.8h0M867.8 381.6h0M869.5 387.1h0M871.2 386.7h0M872.8 384.7h0M874.5 384.6h0M876.2 387.7h0M877.8 389.4h0M879.5 392.2h0M881.2 397.1h0M882.8 403.4h0M884.5 410.2h0M886.2 414.1h0M887.8 416.9h0M889.5 420.6h0M891.2 432.1h0M892.8 436.4h0M894.5 418.8h0M896.2 412.1h0M897.8 409.6h0M899.5 403.3h0M901.2 396.0h0M902.8 411.1h0M904.5 415.0h0M906.2 414.0h0M907.8 412.7h0M909.5 406.4h0M911.2 405.3h0M912.8 403.1h0M914.5 408.9h0M916.2 410.7h0M917.8 411.2h0M919.5 407.7h0M921.2 404.7h0M922.8 407.2h0M924.5 413.6h0M926.2 421.7h0M927.8 427.7h0M929.5 426.6h0M931.2 424.4h0M932.8 423.8h0M934.5 423.8h0M936.2 424.3h0M937.8 422.1h0M939.5 419.2h0M941.2 417.3h0M942.8 410.5h0M944.5 411.3h0M946.2 411.3h0M947.8 410.7h0M949.5 410.4h0M951.2 408.4h0M952.8 405.2h0M954.5 399.5h0M956.2 407.8h0M957.8 421.7h0M959.5 432.0h0M961.2 427.7h0M962.8 423.5h0M964.5 426.7h0M966.2 415.8h0M967.8 417.8h0M969.5 440.4h0M971.2 440.3h0M972.8 440.3h0M974.5 431.7h0M976.2 436.4h0M977.8 443.2h0M979.5 439.7h0M981.2 430.7h0M982.8 421.2h0M984.5 414.1h0M986.2 412.4h0M987.8 411.8h0M989.5 412.1h0M991.2 412.3h0M992.8 412.7h0M994.5 408.7h0M996.2 403.8h0M997.8 411.4h0M999.5 420.4h0M1001.2 411.9h0M1002.8 408.8h0M1004.5 406.5h0M1006.2 404.0h0M1007.8 403.5h0M1009.5 403.7h0M1011.2 405.3h0M1012.8 404.7h0M1014.5 404.2h0M1016.2 404.5h0M1017.8 403.3h0M1019.5 402.6h0M1021.2 405.9h0M1022.8 409.3h0M1024.5 400.9h0M1026.2 399.6h0M1027.8 398.6h0M1029.5 398.5h0M1031.2 399.8h0M1032.8 399.9h0M1034.5 399.9h0M1036.2 398.2h0M1037.8 399.3h0M1039.5 399.5h0M1041.2 398.8h0M1042.8 399.6h0M1044.5 402.9h0M1046.2 406.8h0M1047.8 410.7h0M1049.5 410.4h0M1051.2 410.6h0M1052.8 408.7h0M1054.5 406.7h0M1056.2 404.9h0M1057.8 404.7h0M1059.5 408.9h0M1061.2 412.1h0M1062.8 409.6h0M1064.5 407.2h0M1066.2 405.5h0M1067.8 404.4h0M1069.5 403.6h0M1071.2 401.2h0M1072.8 401.2h0M1074.5 411.3h0M1076.2 439.5h0M1077.8 439.4h0M1079.5 433.6h0M1081.2 432.5h0M1082.8 439.8h0M1084.5 445.9h0M1086.2 448.7h0M1087.8 449.1h0M1089.5 445.5h0M1091.2 448.2h0M1092.8 450.8h0M1094.5 452.0h0M1096.2 448.9h0M1097.8 442.6h0M1099.5 403.9h0M1101.2 402.8h0M1102.8 408.9h0M1104.5 401.3h0M1106.2 392.9h0M1107.8 386.7h0M1109.5 385.3h0M1111.2 388.8h0M1112.8 399.3h0M1114.5 397.8h0M1116.2 397.9h0M1117.8 395.8h0M1119.5 373.4h0M1121.2 371.5h0M1122.8 383.0h0M1124.5 396.9h0M1126.2 398.7h0M1127.8 398.8h0M1129.5 399.3h0M1131.2 400.7h0M1132.8 408.8h0M1134.5 409.1h0M1136.2 410.4h0M1137.8 403.4h0M1139.5 401.4h0M1141.2 402.5h0M1142.8 401.4h0M1144.5 397.1h0M1146.2 400.9h0M1147.8 406.7h0M1149.5 410.2h0M1151.2 411.1h0M1152.8 411.9h0M1154.5 412.4h0M1156.2 410.1h0M1157.8 408.4h0M1159.5 392.3h0M1161.2 388.3h0M1162.8 388.2h0M1164.5 386.0h0M1166.2 382.9h0M1167.8 377.0h0M1169.5 371.7h0M1171.2 370.3h0M1172.8 367.2h0M1174.5 363.0h0M1176.2 359.5h0M1177.8 353.3h0M1179.5 342.6h0M1181.2 375.1h0M1182.8 413.7h0M1184.5 416.8h0M1186.2 414.3h0M1187.8 410.4h0M1189.5 410.0h0M1191.2 409.9h0M1192.8 414.0h0M1194.5 418.6h0M1196.2 416.1h0M1197.8 412.1h0M1199.5 405.8h0M1201.2 403.0h0M1202.8 401.2h0M1204.5 397.5h0M1206.2 392.9h0M1207.8 390.7h0M1209.5 391.2h0M1211.2 390.6h0M1212.8 388.9h0M1214.5 388.2h0M1216.2 388.1h0M1217.8 384.9h0M1219.5 381.6h0M1221.2 387.1h0M1222.8 393.3h0M1224.5 399.3h0M1226.2 394.3h0M1227.8 393.5h0M1229.5 392.9h0M1231.2 395.2h0M1232.8 396.4h0M1234.5 400.7h0M1236.2 403.0h0M1237.8 401.4h0M1239.5 396.9h0M1241.2 401.3h0M1242.8 401.2h0M1244.5 401.0h0" fill="none" stroke="#a79bf2" stroke-width="6" stroke-linecap="round"/>
<g stroke="#50545e" stroke-width="1">
<line x1="68.5" x2="68.5" y1="215" y2="471"/><line x1="62" x2="69" y1="215.5" y2="215.5"/>
<line x1="62" x2="1242" y1="465.5" y2="465.5"/><line x1="62" x2="69" y1="465.5" y2="465.5"/><line x1="62" x2="69" y1="418.3" y2="418.3"/><line x1="62" x2="69" y1="371.1" y2="371.1"/><line x1="62" x2="69" y1="323.9" y2="323.9"/><line x1="62" x2="69" y1="276.7" y2="276.7"/><line x1="62" x2="69" y1="229.5" y2="229.5"/><line x1="86.5" x2="86.5" y1="465.5" y2="471"/><line x1="126.5" x2="126.5" y1="465.5" y2="471"/><line x1="166.5" x2="166.5" y1="465.5" y2="471"/><line x1="206.5" x2="206.5" y1="465.5" y2="471"/><line x1="246.5" x2="246.5" y1="465.5" y2="471"/><line x1="286.5" x2="286.5" y1="465.5" y2="471"/><line x1="326.5" x2="326.5" y1="465.5" y2="471"/><line x1="366.5" x2="366.5" y1="465.5" y2="471"/><line x1="406.5" x2="406.5" y1="465.5" y2="471"/><line x1="446.5" x2="446.5" y1="465.5" y2="471"/><line x1="486.5" x2="486.5" y1="465.5" y2="471"/><line x1="526.5" x2="526.5" y1="465.5" y2="471"/><line x1="566.5" x2="566.5" y1="465.5" y2="471"/><line x1="606.5" x2="606.5" y1="465.5" y2="471"/><line x1="646.5" x2="646.5" y1="465.5" y2="471"/><line x1="686.5" x2="686.5" y1="465.5" y2="471"/><line x1="726.5" x2="726.5" y1="465.5" y2="471"/><line x1="766.5" x2="766.5" y1="465.5" y2="471"/><line x1="806.5" x2="806.5" y1="465.5" y2="471"/><line x1="846.5" x2="846.5" y1="465.5" y2="471"/><line x1="886.5" x2="886.5" y1="465.5" y2="471"/><line x1="926.5" x2="926.5" y1="465.5" y2="471"/><line x1="966.5" x2="966.5" y1="465.5" y2="471"/><line x1="1006.5" x2="1006.5" y1="465.5" y2="471"/><line x1="1046.5" x2="1046.5" y1="465.5" y2="471"/><line x1="1086.5" x2="1086.5" y1="465.5" y2="471"/><line x1="1126.5" x2="1126.5" y1="465.5" y2="471"/><line x1="1166.5" x2="1166.5" y1="465.5" y2="471"/><line x1="1206.5" x2="1206.5" y1="465.5" y2="471"/><line x1="1246.5" x2="1246.5" y1="465.5" y2="471"/></g>
<g font-family="Liberation Sans, sans-serif" font-size="10" fill="#484b53" letter-spacing="0.3"><text x="59" y="468.9" text-anchor="end" font-size="9.7">0</text><text x="59" y="421.7" text-anchor="end" font-size="9.7">20</text><text x="59" y="374.5" text-anchor="end" font-size="9.7">40</text><text x="59" y="327.3" text-anchor="end" font-size="9.7">60</text><text x="59" y="280.1" text-anchor="end" font-size="9.7">80</text><text x="59" y="232.9" text-anchor="end" font-size="9.7">100</text><text x="86.5" y="481.2" text-anchor="middle">Jan 24</text><text x="126.5" y="481.2" text-anchor="middle">Jan 25</text><text x="166.5" y="481.2" text-anchor="middle">Jan 26</text><text x="206.5" y="481.2" text-anchor="middle">Jan 27</text><text x="246.5" y="481.2" text-anchor="middle">Jan 28</text><text x="286.5" y="481.2" text-anchor="middle">Jan 29</text><text x="326.5" y="481.2" text-anchor="middle">Jan 30</text><text x="366.5" y="481.2" text-anchor="middle">Jan 31</text><text x="406.5" y="481.2" text-anchor="middle">February</text><text x="446.5" y="481.2" text-anchor="middle">Feb 02</text><text x="486.5" y="481.2" text-anchor="middle">Feb 03</text><text x="526.5" y="481.2" text-anchor="middle">Feb 04</text><text x="566.5" y="481.2" text-anchor="middle">Feb 05</text><text x="606.5" y="481.2" text-anchor="middle">Feb 06</text><text x="646.5" y="481.2" text-anchor="middle">Feb 07</text><text x="686.5" y="481.2" text-anchor="middle">Feb 08</text><text x="726.5" y="481.2" text-anchor="middle">Feb 09</text><text x="766.5" y="481.2" text-anchor="middle">Feb 10</text><text x="806.5" y="481.2" text-anchor="middle">Feb 11</text><text x="846.5" y="481.2" text-anchor="middle">Feb 12</text><text x="886.5" y="481.2" text-anchor="middle">Feb 13</text><text x="926.5" y="481.2" text-anchor="middle">Feb 14</text><text x="966.5" y="481.2" text-anchor="middle">Feb 15</text><text x="1006.5" y="481.2" text-anchor="middle">Feb 16</text><text x="1046.5" y="481.2" text-anchor="middle">Feb 17</text><text x="1086.5" y="481.2" text-anchor="middle">Feb 18</text><text x="1126.5" y="481.2" text-anchor="middle">Feb 19</text><text x="1166.5" y="481.2" text-anchor="middle">Feb 20</text><text x="1206.5" y="481.2" text-anchor="middle">Feb 21</text><text x="1246.5" y="481.2" text-anchor="middle">Feb 22</text></g>
</svg>
<svg class="clock" width="22" height="22" viewBox="0 0 22 22"><g fill="none" stroke="#4b5160" stroke-linecap="round"><circle cx="11" cy="11" r="8.9" stroke-width="1.5"/><path d="M11 2.6v2M11 17.4v2M2.6 11h2M17.4 11h2" stroke-width="1.9" stroke-linecap="butt"/><path d="M11 7.7v3.8l2.9 2.9" stroke-width="1.6"/></g></svg>
<div class="foot">Chart shows local times (Asia/Bangkok UTC+07:00)</div>
</div></body></html>
